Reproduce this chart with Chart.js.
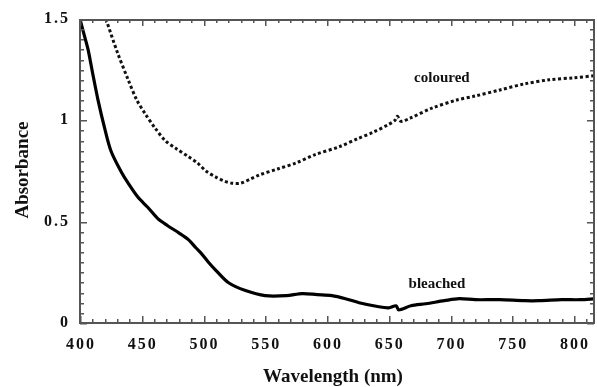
<!DOCTYPE html>
<html>
<head>
<meta charset="utf-8">
<script src="https://cdn.jsdelivr.net/npm/chart.js@4/dist/chart.umd.min.js"></script>
<style>
  html, body { margin: 0; padding: 0; background: #fff; }
  #wrap { width: 597px; height: 387px; }
</style>
</head>
<body>
<div id="wrap"><canvas id="absChart" width="597" height="387"></canvas></div>
<script>
// coloured spectrum (dotted)
const colouredWl = [421, 430, 439, 446, 453, 461, 469, 478, 488, 495, 502, 510, 517, 523, 530, 538, 545, 560, 575, 590, 610, 625, 637, 650, 655, 657, 660, 667, 685, 705, 720, 740, 760, 780, 800, 817];
const colouredAbs = [1.50, 1.34, 1.20, 1.10, 1.03, 0.96, 0.90, 0.86, 0.82, 0.79, 0.75, 0.72, 0.70, 0.69, 0.69, 0.71, 0.73, 0.76, 0.79, 0.83, 0.87, 0.91, 0.94, 0.98, 1.00, 1.02, 0.995, 1.01, 1.06, 1.10, 1.12, 1.15, 1.18, 1.20, 1.21, 1.22];

// bleached spectrum (solid)
const bleachedWl = [400, 403, 406.5, 410, 414.6, 420, 425, 433, 439, 447, 455, 463, 471, 480, 488, 494, 498, 504, 510, 520, 534, 550, 567, 580, 592, 604, 615, 626, 642, 650, 656, 658, 668, 680, 695, 707, 720, 740, 760, 772, 790, 805, 817];
const bleachedAbs = [1.50, 1.43, 1.35, 1.24, 1.10, 0.96, 0.85, 0.75, 0.69, 0.62, 0.57, 0.515, 0.48, 0.445, 0.41, 0.37, 0.345, 0.30, 0.26, 0.20, 0.16, 0.135, 0.135, 0.145, 0.14, 0.135, 0.12, 0.10, 0.08, 0.075, 0.085, 0.065, 0.085, 0.095, 0.11, 0.12, 0.115, 0.115, 0.11, 0.11, 0.115, 0.115, 0.12];

const xTicks = [400, 450, 500, 550, 600, 650, 700, 750, 800];
const yTicks = [0, 0.5, 1, 1.5];
const xMin = 400, xMax = 817;

// where the two curve labels sit, in data units
const seriesLabels = [
  { text: "coloured", x: 693, y: 1.21 },
  { text: "bleached", x: 689, y: 0.19 }
];

const serif = "'Liberation Serif', 'Times New Roman', serif";

function toPoints(xs, ys) {
  return xs.map((x, i) => ({ x: x, y: ys[i] }));
}

// frame, inward ticks, labels and titles
const framePlugin = {
  id: "frame",
  afterDraw(chart) {
    const c = chart.ctx;
    const a = chart.chartArea;
    const xs = chart.scales.x;
    const ys = chart.scales.y;
    const L = Math.round(a.left), R = Math.round(a.right) - 2;
    const T = Math.round(a.top), B = Math.round(a.bottom);
    c.save();
    c.fillStyle = "#555";
    // box
    c.fillRect(L, T, R - L + 2, 2);
    c.fillRect(L, B - 1, R - L + 2, 2);
    c.fillRect(L - 1, T, 2, B - T + 1);
    c.fillRect(R, T, 2, B - T + 1);
    // inward ticks
    for (let v = xMin; v <= xMax; v += 10) {
      const px = Math.round(xs.getPixelForValue(v));
      const len = v % 50 === 0 ? 7 : 4;
      c.fillRect(px, B - len, 1.5, len);
      c.fillRect(px, T, 1.5, len);
    }
    for (let i = 0; i <= 30; i++) {
      const py = Math.round(ys.getPixelForValue(i * 0.05));
      const len = i % 10 === 0 ? 7 : 4;
      c.fillRect(L, py, len, 1.5);
      c.fillRect(R + 1 - len, py, len, 1.5);
    }

    c.fillStyle = "#111";
    c.font = "bold 16px " + serif;
    c.letterSpacing = "2px";
    c.textAlign = "center";
    c.textBaseline = "middle";
    xTicks.forEach(v => {
      c.fillText(String(v), xs.getPixelForValue(v) + 1, 345);
    });
    c.textAlign = "right";
    yTicks.forEach(v => {
      c.fillText(String(v), 70, ys.getPixelForValue(v));
    });
    c.letterSpacing = "0px";

    c.font = "bold 19px " + serif;
    c.textAlign = "center";
    c.fillText("Wavelength (nm)", 333, 377);
    c.save();
    c.translate(23, 170);
    c.rotate(-Math.PI / 2);
    c.fillText("Absorbance", 0, 0);
    c.restore();

    c.font = "bold 15px " + serif;
    seriesLabels.forEach(l => {
      c.fillText(l.text, xs.getPixelForValue(l.x), ys.getPixelForValue(l.y));
    });
    c.restore();
  }
};

const ctx = document.getElementById("absChart").getContext("2d");

const absChart = new Chart(ctx, {
  type: "line",
  data: {
    datasets: [
      {
        label: "coloured",
        data: toPoints(colouredWl, colouredAbs),
        borderColor: "#111",
        borderWidth: 3,
        borderDash: [3, 2.5],
        borderCapStyle: "butt",
        pointRadius: 0,
        tension: 0.3,
        fill: false
      },
      {
        label: "bleached",
        data: toPoints(bleachedWl, bleachedAbs),
        borderColor: "#000",
        borderWidth: 3.2,
        pointRadius: 0,
        tension: 0.3,
        fill: false
      }
    ]
  },
  options: {
    responsive: false,
    animation: false,
    layout: { padding: { left: 0, right: 2, top: 19, bottom: 0 } },
    plugins: {
      legend: { display: false },
      tooltip: { enabled: false }
    },
    scales: {
      x: {
        type: "linear",
        min: xMin,
        max: xMax,
        grid: { display: false },
        border: { display: false },
        ticks: { display: false, stepSize: 50, includeBounds: false },
        afterFit: function (scale) { scale.height = 64; }
      },
      y: {
        min: 0,
        max: 1.5,
        grid: { display: false },
        border: { display: false },
        ticks: { display: false, stepSize: 0.5 },
        afterFit: function (scale) { scale.width = 80; }
      }
    }
  },
  plugins: [framePlugin]
});
</script>
</body>
</html>
